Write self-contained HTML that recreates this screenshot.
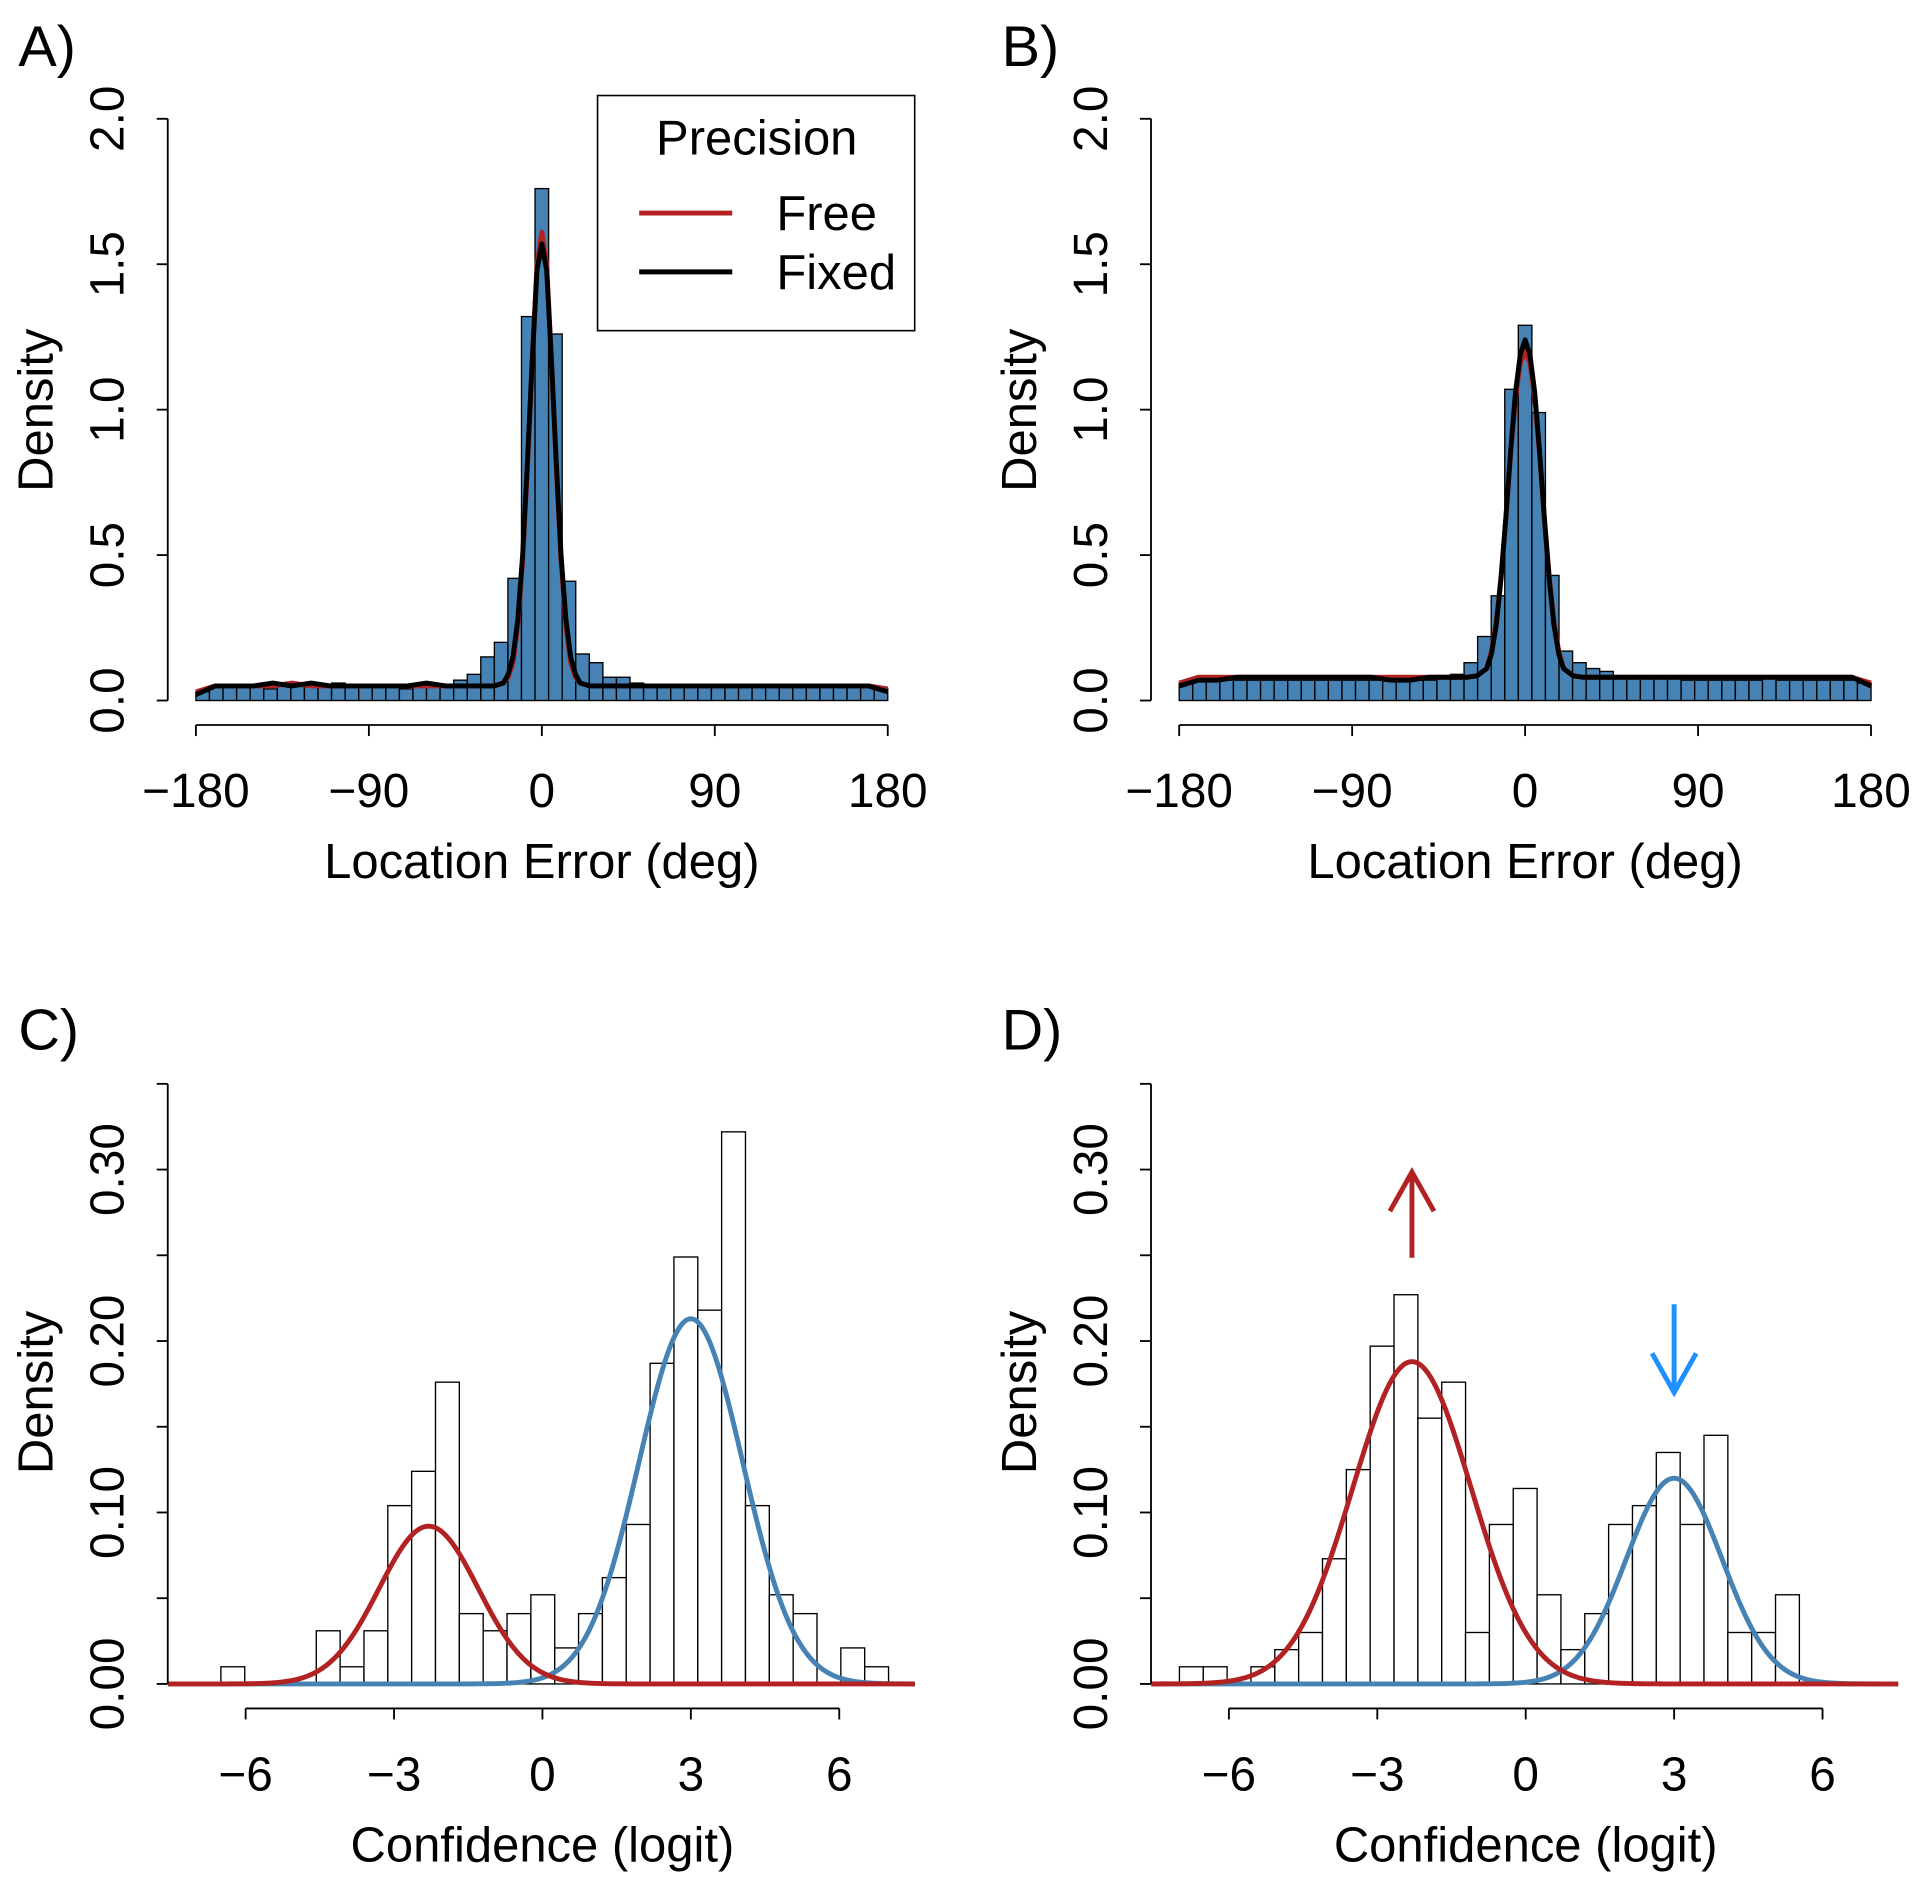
<!DOCTYPE html>
<html><head><meta charset="utf-8"><style>
html,body{margin:0;padding:0;background:#fff;}
svg{display:block;font-family:"Liberation Sans",Arial,sans-serif;}
</style></head><body>
<svg id="fig" width="1920" height="1886" viewBox="0 0 1568 1540" preserveAspectRatio="none" xmlns="http://www.w3.org/2000/svg"></svg>
<script>
// ---- Data ----
const histA = [0.03,0.05,0.05,0.05,0.05,0.04,0.05,0.05,0.05,0.05,0.06,0.05,0.05,0.05,0.05,0.04,0.05,0.05,0.05,0.07,0.09,0.15,0.20,0.42,1.32,1.76,1.26,0.41,0.16,0.13,0.08,0.08,0.06,0.05,0.05,0.05,0.05,0.05,0.05,0.05,0.05,0.05,0.05,0.05,0.05,0.05,0.05,0.05,0.05,0.05,0.04];
const histB = [0.06,0.07,0.07,0.07,0.07,0.07,0.07,0.07,0.07,0.07,0.07,0.07,0.07,0.07,0.07,0.07,0.07,0.07,0.07,0.08,0.09,0.13,0.22,0.36,1.07,1.29,0.99,0.43,0.17,0.13,0.11,0.10,0.08,0.08,0.08,0.08,0.08,0.07,0.07,0.07,0.07,0.07,0.07,0.08,0.07,0.07,0.07,0.07,0.07,0.07,0.06];
const curveX = [-180,-170,-160,-150,-140,-130,-120,-110,-100,-90,-80,-70,-60,-50,-40,-30,-25,-20,-17.5,-15,-12.5,-10,-7.5,-5,-2.5,0,2.5,5,7.5,10,12.5,15,17.5,20,25,30,40,50,60,70,80,90,100,110,120,130,140,150,160,170,180];
const fixedA = [0.02,0.05,0.05,0.05,0.06,0.05,0.06,0.05,0.05,0.05,0.05,0.05,0.06,0.05,0.05,0.05,0.05,0.06,0.09,0.15,0.28,0.50,0.82,1.17,1.48,1.57,1.48,1.17,0.82,0.50,0.28,0.15,0.09,0.06,0.05,0.05,0.05,0.05,0.05,0.05,0.05,0.05,0.05,0.05,0.05,0.05,0.05,0.05,0.05,0.05,0.03];
const freeA  = [0.03,0.05,0.05,0.05,0.05,0.06,0.05,0.05,0.05,0.05,0.05,0.05,0.05,0.05,0.05,0.05,0.05,0.06,0.08,0.13,0.26,0.48,0.80,1.17,1.50,1.61,1.50,1.17,0.80,0.48,0.26,0.13,0.08,0.06,0.05,0.05,0.05,0.05,0.05,0.05,0.05,0.05,0.05,0.05,0.05,0.05,0.05,0.05,0.05,0.05,0.04];
const fixedB = [0.05,0.07,0.07,0.08,0.08,0.08,0.08,0.08,0.08,0.08,0.08,0.07,0.07,0.08,0.08,0.08,0.085,0.11,0.16,0.26,0.42,0.63,0.86,1.06,1.19,1.24,1.19,1.06,0.86,0.63,0.42,0.26,0.16,0.11,0.085,0.08,0.08,0.08,0.08,0.08,0.08,0.08,0.08,0.08,0.08,0.08,0.08,0.08,0.08,0.08,0.05];
const freeB  = [0.06,0.08,0.08,0.08,0.08,0.08,0.08,0.08,0.08,0.08,0.08,0.08,0.08,0.08,0.08,0.08,0.085,0.11,0.17,0.27,0.43,0.63,0.85,1.04,1.16,1.20,1.16,1.04,0.85,0.63,0.43,0.27,0.17,0.11,0.085,0.08,0.08,0.08,0.08,0.08,0.08,0.08,0.08,0.08,0.08,0.08,0.08,0.08,0.08,0.08,0.06];
const histC = [0.01,0,0,0,0.031,0.01,0.031,0.104,0.124,0.176,0.041,0.031,0.041,0.052,0.021,0.041,0.062,0.093,0.187,0.249,0.218,0.322,0.104,0.052,0.041,0,0.021,0.01];
const histD = [0.01,0.01,0,0.01,0.02,0.03,0.073,0.125,0.197,0.227,0.155,0.176,0.03,0.093,0.114,0.052,0.02,0.041,0.093,0.104,0.135,0.093,0.145,0.03,0.03,0.052];
const fitC = {redMean:-2.3, redSd:1.0, redPeak:0.092, blueMean:3.0, blueSd:1.05, bluePeak:0.213};
const fitD = {redMean:-2.3, redSd:1.2, redPeak:0.188, blueMean:3.0, blueSd:0.97, bluePeak:0.12};
const ticksAngle = [-180,-90,0,90,180];
const ticksAngleLbl = ["\u2212180","\u221290","0","90","180"];
const ticksDensA = [0,0.5,1,1.5,2];
const ticksDensALbl = ["0.0","0.5","1.0","1.5","2.0"];
const ticksLogit = [-6,-3,0,3,6];
const ticksLogitLbl = ["\u22126","\u22123","0","3","6"];
const ticksDensC = [0,0.05,0.1,0.15,0.2,0.25,0.3,0.35];
const ticksDensCLbl = ["0.00","","0.10","","0.20","","0.30",""];

const NS="http://www.w3.org/2000/svg";
const svg=document.getElementById('fig');
function mk(tag,attrs,parent){const e=document.createElementNS(NS,tag);for(const k in attrs)e.setAttribute(k,attrs[k]);(parent||svg).appendChild(e);return e;}
const RED="#B22222", BLUE="#4682B4";

function axes(g,xs,ys,o){
  const yl=mk('line',{x1:o.ax,x2:o.ax,y1:ys(o.yt[0]),y2:ys(o.yt[o.yt.length-1]),stroke:'#000','stroke-width':1.5},g);
  
  
  o.yt.forEach((v,i)=>{
    const t=mk('line',{x1:o.ax-9,x2:o.ax,y1:ys(v),y2:ys(v),stroke:'#000','stroke-width':1.5},g);
    
    
    if(o.ytl[i]){
      const tx=mk('text',{x:0,y:0,transform:`translate(${o.ax-36},${ys(v)}) rotate(-90)`,'text-anchor':'middle','font-size':39},g);
      tx.textContent=o.ytl[i];
      
      
    }
  });
  const xl=mk('line',{x1:xs(o.xt[0]),x2:xs(o.xt[o.xt.length-1]),y1:o.ay,y2:o.ay,stroke:'#000','stroke-width':1.5},g);
  
  
  o.xt.forEach((v,i)=>{
    const t=mk('line',{x1:xs(v),x2:xs(v),y1:o.ay,y2:o.ay+9,stroke:'#000','stroke-width':1.5},g);
    
    
    const tx=mk('text',{x:xs(v),y:o.ay+67,'text-anchor':'middle','font-size':39},g);
    tx.textContent=o.xtl[i];
    
    
  });
  const xt=mk('text',{x:(xs(o.xt[0])+xs(o.xt[o.xt.length-1]))/2,y:o.ay+125,'text-anchor':'middle','font-size':40},g);
  xt.textContent=o.xtitle;
  
  
  const yt=mk('text',{x:0,y:0,transform:`translate(${o.ax-94},${o.ytitleY}) rotate(-90)`,'text-anchor':'middle','font-size':40},g);
  yt.textContent='Density';
  
  
  const pl=mk('text',{x:o.ax-122,y:o.ay-538,'font-size':47},g);
  pl.textContent=o.label;
  
  
}
function hist(g,xs,ys,vals,start,w,fill){
  vals.forEach((v,i)=>{
    if(v<=0) return;
    const x0=xs(start+i*w), x1=xs(start+(i+1)*w);
    const r=mk('rect',{x:x0,y:ys(v),width:x1-x0,height:ys(0)-ys(v),fill:fill,stroke:'#000','stroke-width':1.1},g);
    
    
  });
}
function curve(g,xs,ys,X,Y,col,name){
  const d=X.map((x,i)=>(i?'L':'M')+xs(x).toFixed(2)+','+ys(Y[i]).toFixed(2)).join('');
  const p=mk('path',{d:d,fill:'none',stroke:col,'stroke-width':4,'stroke-linejoin':'round'},g);
  
  
}
function gauss(g,xs,ys,mean,sd,peak,col,name){
  const X=[],Y=[];
  for(let x=-7.57;x<=7.53;x+=0.05){X.push(x);Y.push(peak*Math.exp(-((x-mean)**2)/(2*sd*sd)));}
  curve(g,xs,ys,X,Y,col,name);
}

function panelAB(off,label,hv,fx,fr){
  const g=mk('g',{});
  
  
  const xs=v=>off+160+(v+180)/360*565;
  const ys=v=>572-v*237.5;
  const w=360/hv.length;
  hist(g,xs,ys,hv,-180,w,BLUE);
  curve(g,xs,ys,curveX,fr,RED,'free-precision-curve');
  curve(g,xs,ys,curveX,fx,'#000','fixed-precision-curve');
  axes(g,xs,ys,{ax:off+137,ay:592,xt:ticksAngle,xtl:ticksAngleLbl,yt:ticksDensA,ytl:ticksDensALbl,xtitle:'Location Error (deg)',ytitleY:335,label:label});
  return g;
}
panelAB(0,'A)',histA,fixedA,freeA);
panelAB(803,'B)',histB,fixedB,freeB);

const lg=mk('g',{});


mk('rect',{x:488,y:78,width:259,height:192,fill:'#fff',stroke:'#000','stroke-width':1.3},lg);
let t=mk('text',{x:618,y:126,'text-anchor':'middle','font-size':40},lg);t.textContent='Precision';


mk('line',{x1:522,x2:598,y1:174,y2:174,stroke:RED,'stroke-width':4},lg);
t=mk('text',{x:634,y:188,'font-size':40},lg);t.textContent='Free';


mk('line',{x1:522,x2:598,y1:222,y2:222,stroke:'#000','stroke-width':4},lg);
t=mk('text',{x:634,y:236,'font-size':40},lg);t.textContent='Fixed';



function panelCD(off,label,hv,start,fit){
  const g=mk('g',{});
  
  
  const xs=v=>off+443+v*40.4;
  const ys=v=>1375-v*1400;
  hist(g,xs,ys,hv,start,0.482,'#fff');
  gauss(g,xs,ys,fit.blueMean,fit.blueSd,fit.bluePeak,BLUE,'blue-component-curve');
  gauss(g,xs,ys,fit.redMean,fit.redSd,fit.redPeak,RED,'red-component-curve');
  axes(g,xs,ys,{ax:off+137,ay:1395,xt:ticksLogit,xtl:ticksLogitLbl,yt:ticksDensC,ytl:ticksDensCLbl,xtitle:'Confidence (logit)',ytitleY:1137,label:label});
  return {g,xs,ys};
}
panelCD(0,'C)',histC,-6.5,fitC);
const D=panelCD(803,'D)',histD,-7.0,fitD);
const ax1=D.xs(fitD.redMean), ax2=D.xs(fitD.blueMean);
let a=mk('path',{d:`M${ax1},1027 L${ax1},957 M${ax1-18},989 L${ax1},957 L${ax1+18},989`,fill:'none',stroke:RED,'stroke-width':4},svg);


a=mk('path',{d:`M${ax2},1065 L${ax2},1137 M${ax2-18},1105 L${ax2},1137 L${ax2+18},1105`,fill:'none',stroke:'#1E90FF','stroke-width':4},svg);


</script>
</body></html>
